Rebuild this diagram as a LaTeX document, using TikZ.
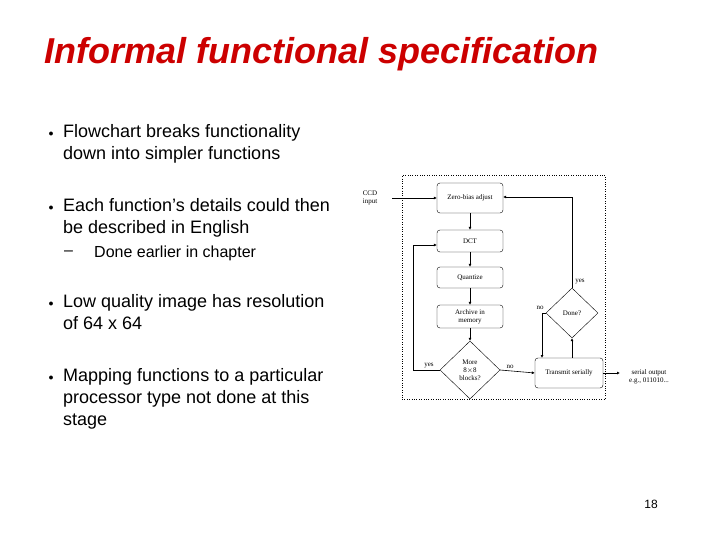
\documentclass[tikz,border=0pt]{standalone}
\usepackage{fontspec}
\setmainfont{Liberation Sans}
\newfontfamily\fc{Liberation Serif}
\usetikzlibrary{shapes.geometric,arrows.meta}
\definecolor{titlered}{RGB}{204,0,0}
\begin{document}
\begin{tikzpicture}[x=1pt,y=-1pt,
  box/.style={draw,rounded corners=3pt,font=\fc\fontsize{7}{8}\selectfont,align=center,inner sep=0},
  dia/.style={draw,diamond,font=\fc\fontsize{7}{8}\selectfont,align=center,inner sep=0},
  lbl/.style={font=\fc\fontsize{7}{8}\selectfont,align=left,inner sep=0},
  ar/.style={-{Latex[length=3pt,width=3pt]},line width=0.6pt},
  bul/.style={font=\fontsize{18}{22}\selectfont,anchor=north west,align=left,inner sep=0},
  dot/.style={font=\fontsize{10}{10}\selectfont,inner sep=0}]
\useasboundingbox (0,0) rectangle (720,540);
\node[font=\bfseries\itshape\fontsize{36}{40}\selectfont,text=titlered,anchor=west,inner sep=0] (title) at (44,54) {Informal functional specification};
\node[dot] (d1) at (51,134) {$\bullet$};
\node[bul] (b1) at (63,124) {Flowchart breaks functionality\\down into simpler functions};
\node[dot] (d2) at (51,208) {$\bullet$};
\node[bul] (b2) at (63,198) {Each function’s details could then\\be described in English};
\node[font=\fontsize{16}{18}\selectfont,anchor=west,inner sep=0] (dash) at (64,253) {–};
\node[font=\fontsize{16}{18}\selectfont,anchor=west,inner sep=0] (sub) at (94,253) {Done earlier in chapter};
\node[dot] (d3) at (51,304) {$\bullet$};
\node[bul] (b3) at (63,294) {Low quality image has resolution\\of 64 x 64};
\node[dot] (d4) at (51,378) {$\bullet$};
\node[bul] (b4) at (63,368) {Mapping functions to a particular\\processor type not done at this\\stage};
\node[font=\fontsize{12}{12}\selectfont] (pg) at (651,504) {18};
% flowchart
\node[draw,dotted,minimum width=203,minimum height=224,inner sep=0] (frame) at (503.5,287) {};
\node[box,minimum width=66,minimum height=30] (zb) at (470,198) {Zero-bias adjust};
\node[box,minimum width=66,minimum height=22] (dct) at (470,241) {DCT};
\node[box,minimum width=66,minimum height=21] (qz) at (470,277.5) {Quantize};
\node[box,minimum width=66,minimum height=23] (ar1) at (470,316.5) {Archive in\\memory};
\node[dia,minimum width=60,minimum height=58] (more) at (470,370) {More\\8$\times$8\\blocks?};
\node[box,minimum width=68,minimum height=30] (tx) at (569,373) {Transmit serially};
\node[dia,minimum width=52,minimum height=50] (done) at (572,313) {Done?};
\node[lbl] (ccd) at (370,198) {CCD\\input};
\coordinate (ccdin) at (392,198);
\draw[ar] (ccdin) -- (zb.west);
\draw[ar] (zb) -- (dct);
\draw[ar] (dct) -- (qz);
\draw[ar] (qz) -- (ar1);
\draw[ar] (ar1) -- (more);
\draw[ar] (more.west) -- (413,370) -- (413,245) -- (dct.west |- 0,245);
\node[lbl] (yes1) at (429,366) {yes};
\draw[ar] (more.east) -- (tx.west);
\node[lbl] (no1) at (510,367) {no};
\draw[ar] (tx.north -| done) -- (done.south);
\draw[ar] (done.west) -- (542,313) -- (542,358);
\node[lbl] (no2) at (540,308) {no};
\draw[ar] (done.north) -- (572,197) -- (zb.east |- 0,197);
\node[lbl] (yes2) at (580,282) {yes};
\coordinate (out) at (620,373);
\draw[ar] (tx.east) -- (out);
\node[lbl,align=center] (serial) at (649,377) {serial output\\e.g., 011010...};
\end{tikzpicture}
\end{document}
